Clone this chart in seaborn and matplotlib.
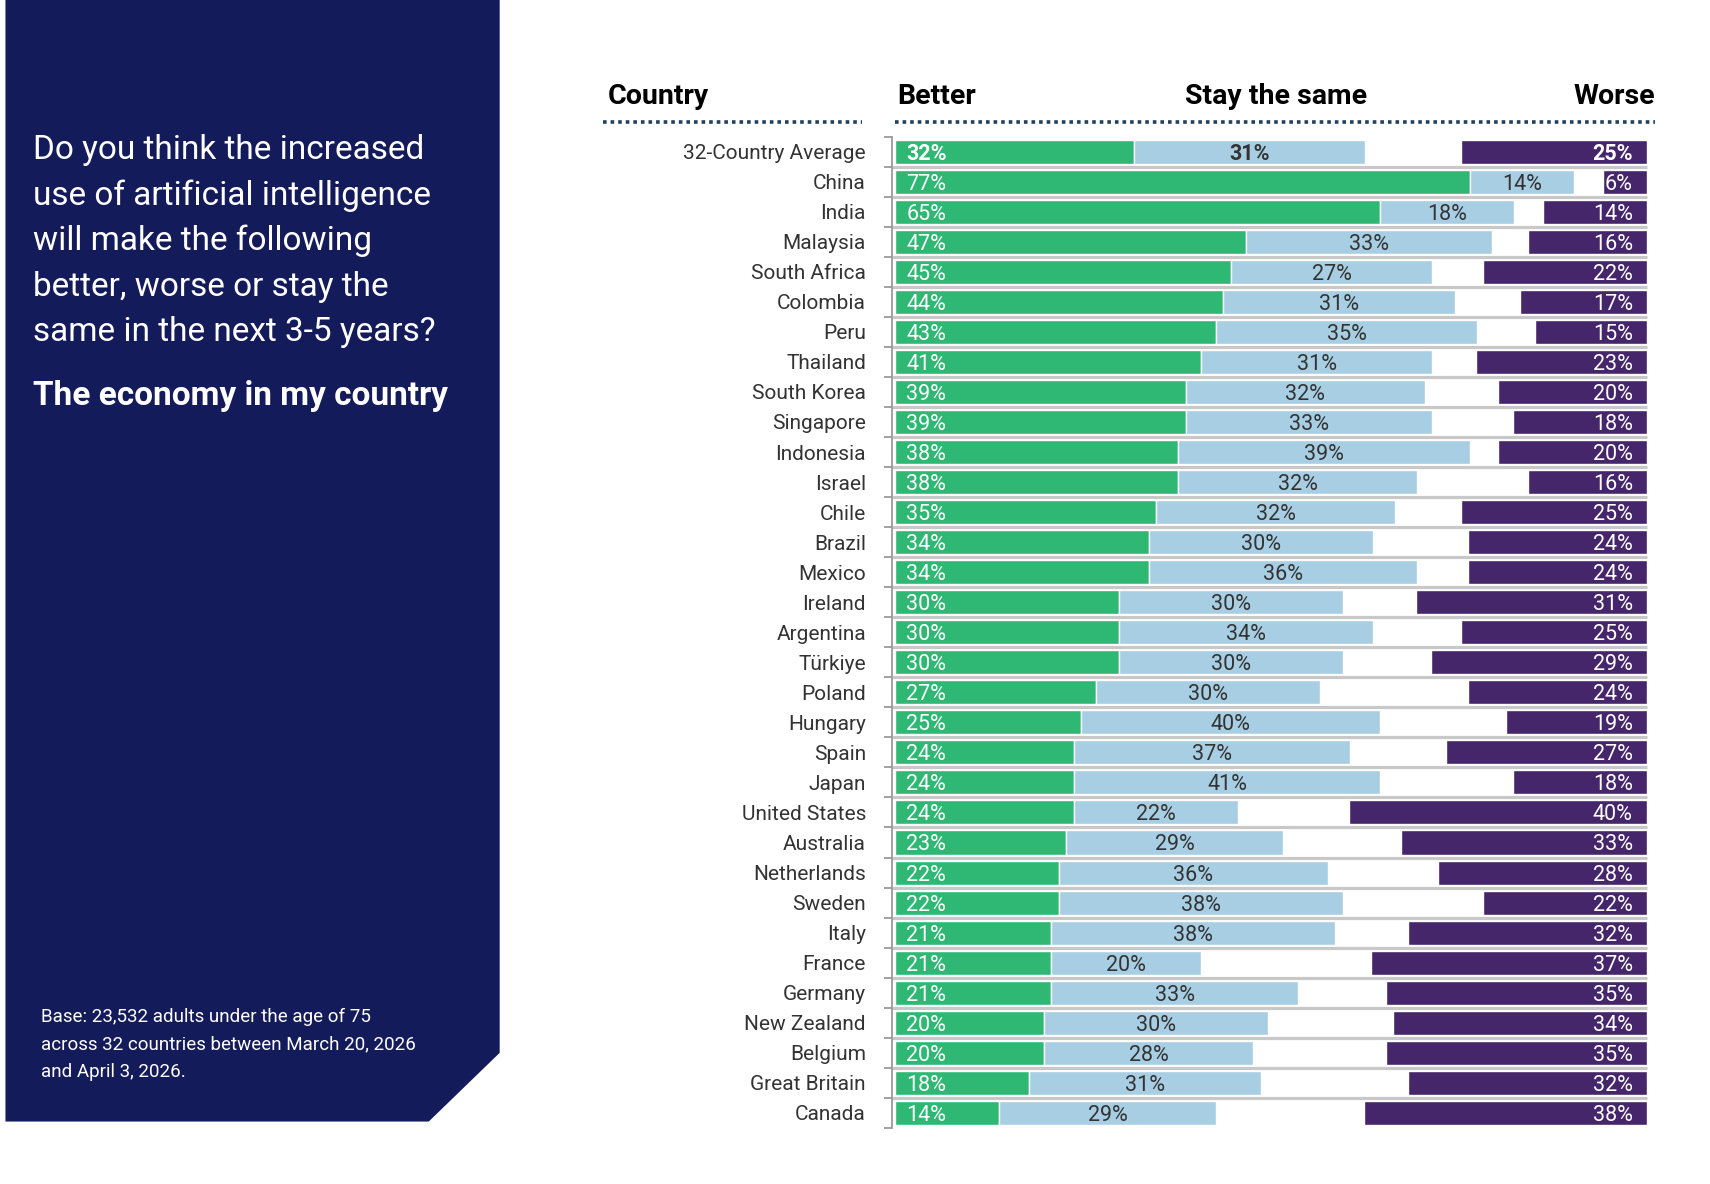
#!/usr/bin/env python3
"""
AI and the economy - Better / Stay the same / Worse by country
"""

import matplotlib
matplotlib.use("Agg")
import matplotlib.pyplot as plt
from matplotlib import font_manager
from matplotlib.patches import Polygon
from matplotlib.lines import Line2D
import seaborn as sns
import pandas as pd

countries = ["32-Country Average", "China", "India", "Malaysia", "South Africa",
             "Colombia", "Peru", "Thailand", "South Korea", "Singapore",
             "Indonesia", "Israel", "Chile", "Brazil", "Mexico", "Ireland",
             "Argentina", "Türkiye", "Poland", "Hungary", "Spain", "Japan",
             "United States", "Australia", "Netherlands", "Sweden", "Italy",
             "France", "Germany", "New Zealand", "Belgium", "Great Britain",
             "Canada"]
better = [32, 77, 65, 47, 45, 44, 43, 41, 39, 39, 38, 38, 35, 34, 34, 30, 30,
          30, 27, 25, 24, 24, 24, 23, 22, 22, 21, 21, 21, 20, 20, 18, 14]
stay = [31, 14, 18, 33, 27, 31, 35, 31, 32, 33, 39, 32, 32, 30, 36, 30, 34,
        30, 30, 40, 37, 41, 22, 29, 36, 38, 38, 20, 33, 30, 28, 31, 29]
worse = [25, 6, 14, 16, 22, 17, 15, 23, 20, 18, 20, 16, 25, 24, 24, 31, 25,
         29, 24, 19, 27, 18, 40, 33, 28, 22, 32, 37, 35, 34, 35, 32, 38]

question = ["Do you think the increased",
            "use of artificial intelligence",
            "will make the following",
            "better, worse or stay the",
            "same in the next 3-5 years?"]
subtitle = "The economy in my country"
base_note = ["Base: 23,532 adults under the age of 75",
             "across 32 countries between March 20, 2026",
             "and April 3, 2026."]

GREEN = "#2fb874"
LIGHT = "#a8cee3"
PURPLE = "#46266a"
NAVY = "#141b5a"
DOTS = "#23405c"
SEP = "#c8c8c8"

W, H = 1710, 1184
S = 1.091   # layout was measured on a 1567 px wide view
R = 100.8   # right edge of the Worse bars, in percent units


def pick_font():
    names = {f.name for f in font_manager.fontManager.ttflist}
    for cand in ["Liberation Sans Narrow", "Roboto", "Open Sans"]:
        if cand in names:
            return cand
    return "DejaVu Sans"


def fx(px):
    return px * S / W


def fy(py):
    return 1 - py * S / H


def main():
    sns.set_theme(style="white")
    font = pick_font()
    plt.rcParams["font.family"] = [font, "DejaVu Sans"]

    df = pd.DataFrame({"country": countries, "better": better,
                       "stay": stay, "worse": worse})

    fig = plt.figure(figsize=(W / 100, H / 100), dpi=100)
    fig.patch.set_facecolor("white")

    # left navy panel with clipped corner
    panel = Polygon([(fx(5), fy(0)), (fx(458), fy(0)), (fx(458), fy(965)),
                     (fx(393), fy(1028)), (fx(5), fy(1028))],
                    closed=True, transform=fig.transFigure,
                    facecolor=NAVY, edgecolor="none", zorder=0)
    fig.patches.append(panel)

    for i, line in enumerate(question):
        fig.text(fx(30), fy(137.5 + i * 41.8), line, color="white",
                 fontsize=24, va="center", ha="left")
    fig.text(fx(30), fy(363), subtitle, color="white", fontsize=24,
             fontweight="bold", va="center", ha="left")
    for i, line in enumerate(base_note):
        fig.text(fx(38), fy(932 + i * 25.5), line, color="white",
                 fontsize=13.5, va="center", ha="left")

    row_h = (1020 - 139) / 32
    ax = fig.add_axes([fx(820), fy(1020 + row_h / 2), fx(1510) - fx(820),
                       fy(139 - row_h / 2) - fy(1020 + row_h / 2)])

    sns.barplot(data=df, y="country", x="better", color=GREEN, width=0.8,
                saturation=1, ax=ax, orient="h")
    sns.barplot(data=df, y="country", x="stay", color=LIGHT, width=0.8,
                saturation=1, ax=ax, orient="h")
    for rect, b in zip(ax.containers[-1], df["better"]):
        rect.set_x(b)
    sns.barplot(data=df, y="country", x="worse", color=PURPLE, width=0.8,
                saturation=1, ax=ax, orient="h")
    for rect, w in zip(ax.containers[-1], df["worse"]):
        rect.set_x(R - w)

    n = len(df)
    ax.set_xlim(0, R)
    ax.set_ylim(n - 0.5, -0.5)
    ax.set_xlabel("")
    ax.set_ylabel("")
    ax.set_xticks([])

    # separators between rows
    ax.hlines([i + 0.5 for i in range(n - 1)], -0.3, R, color=SEP,
              linewidth=2.3, zorder=0.5, clip_on=False)

    for s in ["top", "right", "bottom"]:
        ax.spines[s].set_visible(False)
    ax.spines["left"].set_color("#9a9a9a")
    ax.spines["left"].set_linewidth(1.3)
    ax.spines["left"].set_position(("data", -0.3))

    ax.set_yticks(range(n))
    ax.set_yticklabels(df["country"], fontsize=15, color="#333333")
    ax.set_yticks([i - 0.5 for i in range(n + 1)], minor=True)
    ax.tick_params(axis="y", which="major", length=0, pad=19)
    ax.tick_params(axis="y", which="minor", length=6, width=1.3,
                   color="#9a9a9a", left=True)

    fs = 15.5
    for i, row in df.iterrows():
        wt = "bold" if i == 0 else "normal"
        ax.annotate(f"{row['better']}%", (0, i), xytext=(8.5, 0),
                    textcoords="offset points", ha="left",
                    va="center_baseline", color="white", fontsize=fs,
                    fontweight=wt)
        ax.text(row["better"] + row["stay"] / 2, i, f"{row['stay']}%",
                ha="center", va="center_baseline", color="#333333",
                fontsize=fs, fontweight=wt)
        ax.annotate(f"{row['worse']}%", (R, i), xytext=(-10.5, 0),
                    textcoords="offset points", ha="right",
                    va="center_baseline", color="white", fontsize=fs,
                    fontweight=wt)

    # headers
    hs = 20.5
    fig.text(fx(557), fy(88), "Country", fontsize=hs, fontweight="bold",
             color="black", ha="left", va="center")
    fig.text(fx(822), fy(88), "Better", fontsize=hs, fontweight="bold",
             color="black", ha="left", va="center")
    fig.text(fx(1170), fy(88), "Stay the same", fontsize=hs,
             fontweight="bold", color="black", ha="center", va="center")
    fig.text(fx(1517), fy(88), "Worse", fontsize=hs, fontweight="bold",
             color="black", ha="right", va="center")

    for x0, x1 in [(553, 790), (820, 1517)]:
        fig.add_artist(Line2D([fx(x0), fx(x1)], [fy(112), fy(112)],
                              transform=fig.transFigure, color=DOTS,
                              linewidth=2.6, linestyle=(0, (1, 1.1))))

    fig.savefig("out.png", dpi=100)
    plt.close(fig)


if __name__ == "__main__":
    main()
